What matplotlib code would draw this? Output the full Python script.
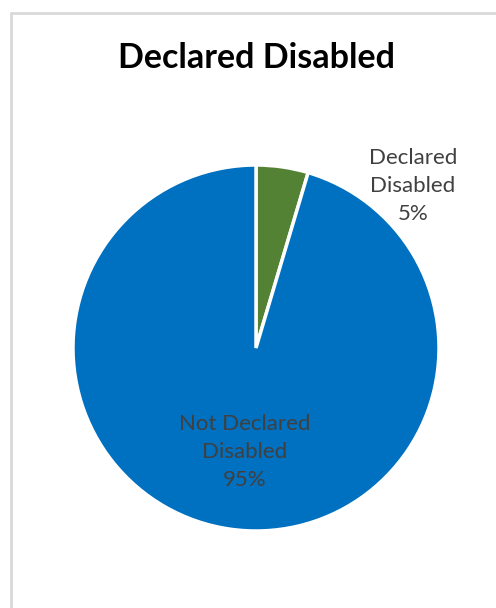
import matplotlib.pyplot as plt
from matplotlib.patches import Rectangle

categories = ["Declared\nDisabled", "Not Declared\nDisabled"]
values = [4.6, 95.4]
colors = ["#548235", "#0070C0"]

plt.rcParams['font.family'] = ['Lato', 'DejaVu Sans']

fig = plt.figure(figsize=(4.96, 6.08), dpi=100)

# chart border (only left/top visible in the crop)
fig.patches.append(Rectangle((11 / 496, -0.1), 1.2, 0.1 + (608 - 13) / 608,
                             transform=fig.transFigure, fill=False,
                             edgecolor="#D9D9D9", linewidth=2))

ax = fig.add_axes([(256 - 183) / 496, (260 - 183) / 608, 366 / 496, 366 / 608])
wedges, _ = ax.pie(values, colors=colors, startangle=90, counterclock=False,
                   wedgeprops=dict(edgecolor="white", linewidth=2.5))
ax.set_xlim(-1, 1)
ax.set_ylim(-1, 1)
ax.set_aspect("equal")

pct = [f"{v:.0f}%" for v in values]
ax.text(0.858, 0.885, f"{categories[0]}\n{pct[0]}", ha="center", va="center",
        fontsize=16, color="#404040", linespacing=1.5)
ax.text(-0.06, -0.568, f"{categories[1]}\n{pct[1]}", ha="center", va="center",
        fontsize=16, color="#404040", linespacing=1.5)

fig.text(256 / 496, 1 - 58 / 608, "Declared Disabled", ha="center", va="center",
         fontsize=24.5, fontweight="bold", color="black")

fig.savefig("out.png", dpi=100)
